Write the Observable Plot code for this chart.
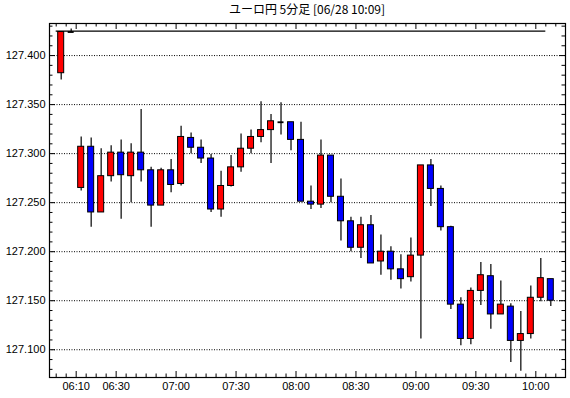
<!DOCTYPE html>
<html><head><meta charset="utf-8">
<script src="https://cdn.jsdelivr.net/npm/d3@7"></script>
<script src="https://cdn.jsdelivr.net/npm/@observablehq/plot@0.6"></script>
<style>
body{margin:0;background:#fff;}
#title{height:18px;line-height:20px;font:12px "Noto Sans CJK JP",sans-serif;text-align:center;padding-left:44px;box-sizing:border-box;width:570px;color:#000;}
#chart svg{display:block;}
</style></head><body>
<div id="title">ユーロ円 5分足 [06/28 10:09]</div>
<div id="chart"></div>
<script>
const times = [
 "06:00","06:05","06:10","06:15","06:20","06:25","06:30","06:35","06:40","06:45",
 "06:50","06:55","07:00","07:05","07:10","07:15","07:20","07:25","07:30","07:35",
 "07:40","07:45","07:50","07:55","08:00","08:05","08:10","08:15","08:20","08:25",
 "08:30","08:35","08:40","08:45","08:50","08:55","09:00","09:05","09:10","09:15",
 "09:20","09:25","09:30","09:35","09:40","09:45","09:50","09:55","10:00","10:05"];
const opens = [
 127.382,127.424,127.265,127.307,127.240,127.277,127.301,127.277,127.301,127.283,
 127.247,127.283,127.269,127.316,127.306,127.295,127.243,127.267,127.286,127.305,
 127.317,127.324,127.332,127.332,127.314,127.251,127.248,127.298,127.256,127.231,
 127.204,127.227,127.190,127.200,127.182,127.174,127.196,127.288,127.264,127.225,
 127.146,127.111,127.160,127.175,127.136,127.144,127.109,127.116,127.153,127.172];
const closes = [
 127.424,127.424,127.307,127.240,127.277,127.301,127.278,127.301,127.283,127.247,
 127.283,127.268,127.317,127.306,127.295,127.243,127.267,127.286,127.305,127.317,
 127.324,127.333,127.332,127.314,127.251,127.248,127.298,127.256,127.231,127.204,
 127.227,127.188,127.200,127.182,127.172,127.196,127.288,127.264,127.225,127.146,
 127.111,127.160,127.176,127.136,127.146,127.109,127.116,127.153,127.173,127.150];
const highs = [
 127.424,127.427,127.317,127.316,127.305,127.308,127.314,127.310,127.345,127.286,
 127.285,127.294,127.328,127.321,127.314,127.299,127.282,127.298,127.320,127.324,
 127.353,127.340,127.352,127.332,127.332,127.267,127.314,127.298,127.274,127.235,
 127.235,127.237,127.217,127.205,127.197,127.214,127.288,127.294,127.267,127.226,
 127.153,127.163,127.189,127.187,127.170,127.147,127.139,127.165,127.193,127.172];
const lows = [
 127.375,127.424,127.262,127.225,127.240,127.271,127.233,127.250,127.271,127.225,
 127.247,127.260,127.267,127.300,127.290,127.240,127.235,127.266,127.281,127.300,
 127.311,127.290,127.319,127.303,127.251,127.243,127.244,127.250,127.211,127.200,
 127.193,127.188,127.176,127.171,127.162,127.169,127.111,127.246,127.221,127.141,
 127.104,127.105,127.145,127.121,127.136,127.087,127.078,127.111,127.149,127.144];
const yTickLabels = [127.100,127.150,127.200,127.250,127.300,127.350,127.400];
const xTickLabels = ["06:10","06:30","07:00","07:30","08:00","08:30","09:00","09:30","10:00"];
const refLevel = 127.425;
const refStart = "06:00", refEnd = "10:05";

const MIN = 60000;
const toDate = s => new Date(Date.UTC(2000,0,1,+s.slice(0,2),+s.slice(3,5)));
const candles = times.map((t,i)=>({t: toDate(t), o: opens[i], c: closes[i], h: highs[i], l: lows[i], up: closes[i] >= opens[i]}));

const W = 570, H = 380, mT = 5, mB = 21, mL = 49, mR = 5;
const yDom = [127.0717, 127.4327];
const xDom = [new Date(+toDate("06:00") - 3.35*MIN), new Date(+toDate("10:00") + 14.85*MIN)];
const pxY = (yDom[1]-yDom[0]) / (H - mT - mB);
const pxX = (xDom[1]-xDom[0]) / (W - mL - mR);

const xMinor = d3.utcMinute.every(5).range(toDate("06:00"), new Date(+toDate("10:10")+1));
const xMajorSet = new Set(xTickLabels.map(s => +toDate(s)));
const xLen = d => xMajorSet.has(+d) ? 6 : 3.5;
const yMinor = d3.range(127.08, 127.4301, 0.01).map(v => +v.toFixed(2));
const yMajorSet = new Set(yTickLabels.map(v => v.toFixed(3)));
const yLen = v => yMajorSet.has(v.toFixed(3)) ? 6 : 3.5;

const bodies = candles.filter(d => d.o !== d.c);
const dojis = candles.filter(d => d.o === d.c);

const chart = Plot.plot({
  width: W, height: H,
  marginTop: mT, marginBottom: mB, marginLeft: mL, marginRight: mR,
  style: {fontFamily: "'Liberation Sans', sans-serif", fontSize: "11px", color: "#000", background: "#fff"},
  x: {type: "utc", domain: xDom, axis: null},
  y: {domain: yDom, axis: null},
  marks: [
    Plot.ruleY(yTickLabels, {stroke: "#000", strokeDasharray: "1,1.5", strokeWidth: 1}),
    Plot.ruleY([refLevel], {x1: toDate(refStart), x2: toDate(refEnd), stroke: "#000", strokeWidth: 1.2}),
    Plot.ruleX(candles, {x: d => new Date(+d.t + 2.5*MIN), y1: "l", y2: "h", stroke: "#000", strokeWidth: 1.2}),
    Plot.rect(bodies, {x1: d => new Date(+d.t + 1*MIN), x2: d => new Date(+d.t + 4*MIN), y1: "o", y2: "c",
      fill: d => d.up ? "#ff0000" : "#0000ff", stroke: "#000", strokeWidth: 1}),
    Plot.ruleY(dojis, {y: "o", x1: d => new Date(+d.t + 1*MIN), x2: d => new Date(+d.t + 4*MIN), stroke: "#000", strokeWidth: 1.8}),
    // x ticks bottom & top (inward)
    Plot.ruleX(xMinor, {x: d => d, y1: yDom[0], y2: d => yDom[0] + xLen(d)*pxY, stroke: "#000"}),
    Plot.ruleX(xMinor, {x: d => d, y1: yDom[1], y2: d => yDom[1] - xLen(d)*pxY, stroke: "#000"}),
    // y ticks left & right (inward)
    Plot.ruleY(yMinor, {y: d => d, x1: xDom[0], x2: d => new Date(+xDom[0] + yLen(d)*pxX), stroke: "#000"}),
    Plot.ruleY(yMinor, {y: d => d, x1: xDom[1], x2: d => new Date(+xDom[1] - yLen(d)*pxX), stroke: "#000"}),
    Plot.frame({stroke: "#000", strokeWidth: 1.2}),
    Plot.axisY(yTickLabels, {anchor: "left", tickSize: 0, tickPadding: 4, tickFormat: d3.format(".3f"), fontSize: 11}),
    Plot.axisX(xTickLabels.map(toDate), {anchor: "bottom", tickSize: 0, tickPadding: 5, tickFormat: d3.utcFormat("%H:%M"), fontSize: 11})
  ]
});
document.getElementById("chart").appendChild(chart);
</script>
</body></html>
